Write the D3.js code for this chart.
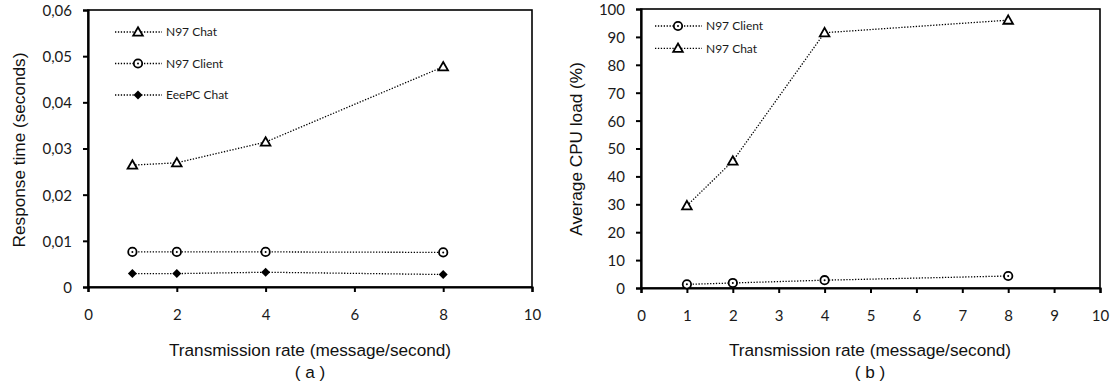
<!DOCTYPE html>
<html><head><meta charset="utf-8">
<script src="https://cdn.jsdelivr.net/npm/d3@7"></script>
<style>
body{margin:0;background:#fff;}
svg{display:block;}
.tick text{font-family:Lato,"Open Sans",sans-serif;font-size:15px;fill:#1a1a1a;}
.title{font-family:"Liberation Sans",Arial,sans-serif;font-size:17.2px;fill:#111;}
.leg{font-family:Lato,"Open Sans",sans-serif;font-size:12px;fill:#1a1a1a;}
</style></head>
<body>
<svg id="c" width="1114" height="387"></svg>
<script>
// ---- Data ----
const ratesA = [1, 2, 4, 8];
const n97ChatRespA = [0.0264, 0.0269, 0.0314, 0.0477];
const n97ClientRespA = [0.0076, 0.0076, 0.0076, 0.0075];
const eeepcChatRespA = [0.0029, 0.0029, 0.0032, 0.0027];
const xTicksA = [0, 2, 4, 6, 8, 10];
const yTicksA = [0, 0.01, 0.02, 0.03, 0.04, 0.05, 0.06];

const ratesB = [1, 2, 4, 8];
const n97ClientCpuB = [1.3, 1.8, 2.8, 4.3];
const n97ChatCpuB = [29.5, 45.5, 91.5, 96];
const xTicksB = [0, 1, 2, 3, 4, 5, 6, 7, 8, 9, 10];
const yTicksB = [0, 10, 20, 30, 40, 50, 60, 70, 80, 90, 100];

const svg = d3.select("#c");
const loc = d3.formatLocale({decimal: ",", thousands: ".", grouping: [3], currency: ["", ""]});
const fmtA = v => v === 0 ? "0" : loc.format(".2f")(v);

function marker(g, type, x, y) {
  if (type === "tri") {
    const s = 4.8;
    g.append("path").attr("d", `M${x},${y - s}L${x + s},${y + s * 0.75}L${x - s},${y + s * 0.75}Z`)
      .attr("fill", "#fff").attr("stroke", "#000").attr("stroke-width", 1.8).attr("stroke-linejoin", "miter");
  } else if (type === "circ") {
    g.append("circle").attr("cx", x).attr("cy", y).attr("r", 4.2)
      .attr("fill", "#fff").attr("stroke", "#000").attr("stroke-width", 1.8);
    g.append("circle").attr("cx", x).attr("cy", y).attr("r", 1).attr("fill", "#000");
  } else if (type === "dia") {
    const s = 4.5;
    g.append("path").attr("d", `M${x},${y - s}L${x + s},${y}L${x},${y + s}L${x - s},${y}Z`).attr("fill", "#000");
  }
}

function panel(opt) {
  const g = svg.append("g");
  const x = d3.scaleLinear().domain([0, 10]).range([opt.x0, opt.x1]);
  const y = d3.scaleLinear().domain(opt.ydom).range([opt.y0, opt.y1]);
  // frame
  g.append("rect").attr("x", opt.x0).attr("y", opt.y1).attr("width", opt.x1 - opt.x0).attr("height", opt.y0 - opt.y1)
    .attr("fill", "none").attr("stroke", "#000").attr("stroke-width", 1.6);
  const xa = g.append("g").attr("transform", `translate(0,${opt.y0})`)
    .call(d3.axisBottom(x).tickValues(opt.xticks).tickSize(5).tickPadding(17).tickFormat(d3.format("d")));
  xa.select(".domain").attr("stroke-width", 2.2);
  xa.selectAll(".tick line").attr("stroke-width", 2);
  const ya = g.append("g").attr("transform", `translate(${opt.x0},0)`)
    .call(d3.axisLeft(y).tickValues(opt.yticks).tickSize(5).tickPadding(11).tickFormat(opt.yfmt));
  ya.select(".domain").attr("stroke-width", 2.2);
  ya.selectAll(".tick line").attr("stroke-width", 2);
  ya.selectAll(".tick text").attr("dy", "0.36em");

  const line = d3.line().x(d => x(d[0])).y(d => y(d[1]));
  opt.series.forEach(s => {
    const pts = opt.xs.map((v, i) => [v, s.vals[i]]);
    g.append("path").attr("d", line(pts)).attr("fill", "none").attr("stroke", "#000")
      .attr("stroke-width", 1.3).attr("stroke-dasharray", "1.3,1.6");
    pts.forEach(p => marker(g, s.type, x(p[0]), y(p[1])));
  });
  // legend
  opt.series.forEach((s, i) => {
    const ly = opt.leg.y + i * opt.leg.dy;
    g.append("line").attr("x1", opt.leg.x).attr("x2", opt.leg.x + 47).attr("y1", ly).attr("y2", ly)
      .attr("stroke", "#000").attr("stroke-width", 1.3).attr("stroke-dasharray", "1.3,1.6");
    marker(g, s.type, opt.leg.x + 23, ly);
    g.append("text").attr("class", "leg").attr("x", opt.leg.x + 51).attr("y", ly).attr("dy", "0.35em").text(s.name);
  });
  // titles
  g.append("text").attr("class", "title").attr("text-anchor", "middle")
    .attr("transform", `translate(${opt.ytx},${opt.ytc}) rotate(-90)`).text(opt.ytitle);
  g.append("text").attr("class", "title").attr("text-anchor", "middle")
    .attr("x", opt.xtc).attr("y", 356).text("Transmission rate (message/second)");
  g.append("text").attr("class", "title").attr("text-anchor", "middle")
    .attr("x", opt.xtc).attr("y", 378).text(opt.sub);
}

panel({
  x0: 88, x1: 532, y0: 287, y1: 10, ydom: [0, 0.06],
  xticks: xTicksA, yticks: yTicksA, yfmt: fmtA, xs: ratesA,
  series: [
    {name: "N97 Chat", vals: n97ChatRespA, type: "tri"},
    {name: "N97 Client", vals: n97ClientRespA, type: "circ"},
    {name: "EeePC Chat", vals: eeepcChatRespA, type: "dia"}
  ],
  leg: {x: 115, y: 32, dy: 31.5},
  ytitle: "Response time (seconds)", ytx: 25, ytc: 150, xtc: 310, sub: "( a )"
});

panel({
  x0: 641, x1: 1100, y0: 288, y1: 9, ydom: [0, 100],
  xticks: xTicksB, yticks: yTicksB, yfmt: d3.format("d"), xs: ratesB,
  series: [
    {name: "N97 Client", vals: n97ClientCpuB, type: "circ"},
    {name: "N97 Chat", vals: n97ChatCpuB, type: "tri"}
  ],
  leg: {x: 655, y: 26, dy: 22.3},
  ytitle: "Average CPU load (%)", ytx: 582, ytc: 149, xtc: 870, sub: "( b )"
});
</script>
</body></html>
